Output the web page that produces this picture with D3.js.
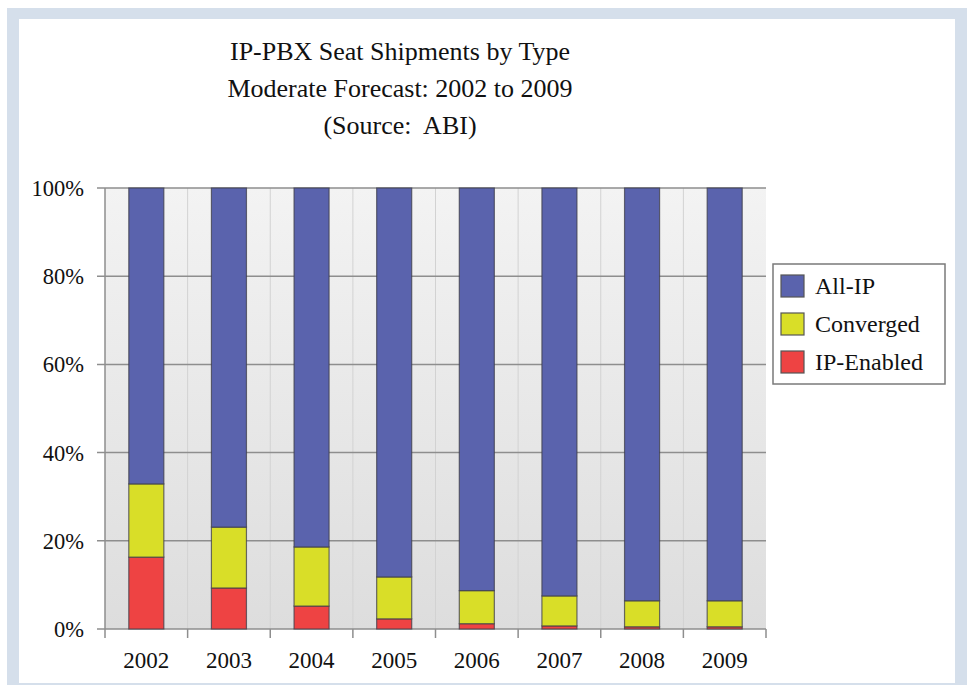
<!DOCTYPE html>
<html>
<head>
<meta charset="utf-8">
<script src="https://cdn.jsdelivr.net/npm/d3@7"></script>
<style>
  html, body { margin: 0; padding: 0; background: #fff; }
  svg { display: block; font-family: "Liberation Serif", "Times New Roman", serif; }
</style>
</head>
<body>
<div class="chart"></div>
<script>
// values (percent of seats)
const years = ["2002", "2003", "2004", "2005", "2006", "2007", "2008", "2009"]
const ipEnabled = [16.3, 9.3, 5.2, 2.3, 1.2, 0.7, 0.5, 0.5]
const converged = [16.6, 13.8, 13.4, 9.5, 7.5, 6.8, 5.9, 5.9]
const allIP = years.map((y, i) => +(100 - ipEnabled[i] - converged[i]).toFixed(1))
const seriesNames = ["IP-Enabled", "Converged", "All-IP"]
const seriesColors = ["#ee4343", "#d9de28", "#5a63ad"]
const yTicks = [0, 20, 40, 60, 80, 100]
const titleLines = ["IP-PBX Seat Shipments by Type", "Moderate Forecast: 2002 to 2009", "(Source:  ABI)"]

const width = 967
const height = 685

const svg = d3.select('.chart').append('svg')
    .attr("width", width)
    .attr("height", height)

// frame
svg.append("rect")
    .attr("x", 7).attr("y", 8)
    .attr("width", width - 7).attr("height", height - 8)
    .attr("fill", "#d5dfeb")
svg.append("rect")
    .attr("x", 19).attr("y", 19)
    .attr("width", 955 - 19).attr("height", 683 - 19)
    .attr("fill", "#fff")

const rows = years.map((y, i) => ({
    year: y,
    "IP-Enabled": ipEnabled[i],
    "Converged": converged[i],
    "All-IP": allIP[i]
}))

const x = d3.scaleBand()
    .domain(years)
    .range([105, 766])
    .paddingInner(0.576)
    .paddingOuter(0.288)

const y = d3.scaleLinear()
    .domain([0, 100])
    .range([629, 188])

const color = d3.scaleOrdinal().domain(seriesNames).range(seriesColors)

// plot background
const defs = svg.append("defs")
const grad = defs.append("linearGradient")
    .attr("id", "bg")
    .attr("x1", 0).attr("y1", 0).attr("x2", 0).attr("y2", 1)
grad.append("stop").attr("offset", "0%").attr("stop-color", "#f3f3f3")
grad.append("stop").attr("offset", "100%").attr("stop-color", "#dddddd")

svg.append("rect")
    .attr("x", x.range()[0]).attr("y", y(100))
    .attr("width", x.range()[1] - x.range()[0])
    .attr("height", y(0) - y(100))
    .attr("fill", "url(#bg)")

// faint column dividers
const step = x.step()
const bounds = d3.range(years.length + 1).map(i => x.range()[0] + i * step)
svg.append("g")
    .selectAll("line")
    .data(bounds.slice(1, -1))
    .join("line")
    .attr("x1", d => d).attr("x2", d => d)
    .attr("y1", y(100)).attr("y2", y(0))
    .attr("stroke", "#d2d2d2")
    .attr("stroke-width", 1)

// horizontal gridlines + y ticks
svg.append("g")
    .selectAll("line")
    .data(yTicks)
    .join("line")
    .attr("x1", 97).attr("x2", x.range()[1])
    .attr("y1", d => y(d)).attr("y2", d => y(d))
    .attr("stroke", "#8e8e8e")
    .attr("stroke-width", 1.5)

svg.append("g")
    .selectAll("text")
    .data(yTicks)
    .join("text")
    .attr("x", 84)
    .attr("y", d => y(d) + 8)
    .attr("text-anchor", "end")
    .attr("font-size", 22.5)
    .attr("fill", "#111")
    .text(d => d + "%")

// y axis line
svg.append("line")
    .attr("x1", 105).attr("x2", 105)
    .attr("y1", y(100)).attr("y2", y(0))
    .attr("stroke", "#8e8e8e")
    .attr("stroke-width", 1.5)

// stacked bars
const stack = d3.stack().keys(seriesNames)
const layers = stack(rows)

svg.append("g")
    .selectAll("g")
    .data(layers)
    .join("g")
    .attr("fill", d => color(d.key))
    .selectAll("rect")
    .data(d => d)
    .join("rect")
    .attr("x", d => x(d.data.year))
    .attr("y", d => y(d[1]))
    .attr("width", x.bandwidth())
    .attr("height", d => y(d[0]) - y(d[1]))
    .attr("stroke", "#3e3e4a")
    .attr("stroke-opacity", 0.75)
    .attr("stroke-width", 1.2)

// x axis ticks at band boundaries
svg.append("g")
    .selectAll("line")
    .data(bounds)
    .join("line")
    .attr("x1", d => d).attr("x2", d => d)
    .attr("y1", y(0)).attr("y2", y(0) + 9)
    .attr("stroke", "#8e8e8e")
    .attr("stroke-width", 1.5)

svg.append("g")
    .selectAll("text")
    .data(years)
    .join("text")
    .attr("x", d => x(d) + x.bandwidth() / 2)
    .attr("y", 668)
    .attr("text-anchor", "middle")
    .attr("font-size", 23)
    .attr("fill", "#111")
    .text(d => d)

// title
svg.append("g")
    .selectAll("text")
    .data(titleLines)
    .join("text")
    .attr("x", 400)
    .attr("y", (d, i) => 60 + i * 37)
    .attr("text-anchor", "middle")
    .attr("font-size", 26)
    .attr("fill", "#111")
    .style("white-space", "pre")
    .attr("xml:space", "preserve")
    .text(d => d)

// legend
const legend = svg.append("g")
legend.append("rect")
    .attr("x", 773).attr("y", 264)
    .attr("width", 172).attr("height", 120)
    .attr("fill", "#fff")
    .attr("stroke", "#7a7a7a")
    .attr("stroke-width", 1.5)

const legendItems = seriesNames.slice().reverse()
const li = legend.selectAll("g")
    .data(legendItems)
    .join("g")
    .attr("transform", (d, i) => `translate(781,${275 + i * 38})`)
li.append("rect")
    .attr("width", 23).attr("height", 22)
    .attr("fill", d => color(d))
    .attr("stroke", "#555")
    .attr("stroke-width", 1.2)
li.append("text")
    .attr("x", 34)
    .attr("y", 19)
    .attr("font-size", 24)
    .attr("fill", "#111")
    .text(d => d)
</script>
</body>
</html>
